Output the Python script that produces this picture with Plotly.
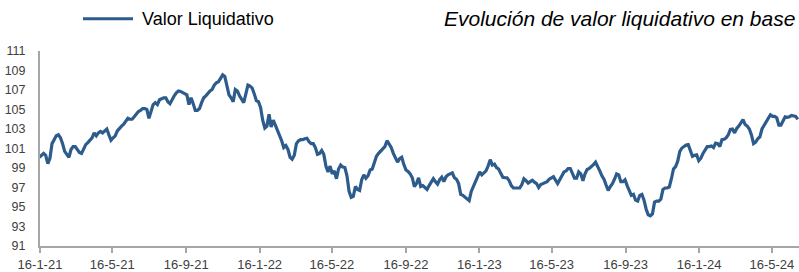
import plotly.graph_objects as go
import pandas as pd

# Twice-weekly observations from 15-1-2021 to 28-6-2024
dates = pd.date_range("2021-01-15", "2024-06-28", freq="84h")
valor_liquidativo = [
    100.1, 100.3, 100.5, 100.3, 99.45, 100.0, 101.5, 101.9, 102.3, 102.4,
    102.1, 101.5, 100.7, 100.4, 100.1, 100.9, 101.2, 101.2, 100.9, 100.6,
    100.5, 100.9, 101.4, 101.6, 101.8, 102.1, 102.6, 102.3, 102.6, 102.75,
    102.6, 102.8, 103.0, 102.4, 101.85, 102.1, 102.3, 102.8, 103.1, 103.3,
    103.5, 103.8, 104.1, 104.0, 104.0, 104.25, 104.5, 104.8, 104.9, 105.1,
    105.1, 105.0, 104.1, 104.7, 105.5, 105.7, 105.5, 106.0, 106.1, 106.2,
    106.2, 105.8, 105.6, 106.05, 106.4, 106.7, 106.9, 106.85, 106.7, 106.6,
    106.5, 105.5, 106.2, 105.6, 104.9, 104.9, 105.1, 105.7, 106.2, 106.4,
    106.7, 106.9, 107.05, 107.5, 107.75, 107.85, 108.2, 108.55, 108.4, 107.6,
    106.5, 106.2, 105.8, 107.05, 106.9, 106.4, 106.0, 105.7, 106.6, 107.5,
    107.4, 107.2, 106.6, 105.9, 105.8, 105.2, 103.9, 103.1, 103.3, 104.5,
    103.2, 103.9, 103.4, 102.9, 102.3, 101.8, 101.1, 101.3, 100.9, 100.1,
    99.9, 100.3, 101.5, 101.8, 101.9, 101.9, 102.0, 102.05, 101.7, 101.5,
    101.5, 101.1, 100.4, 100.5, 100.8, 100.4, 99.2, 98.6, 99.2, 98.4,
    98.7, 97.9, 98.9, 99.3, 99.1, 99.05, 98.2, 96.6, 96.0, 96.1,
    97.1, 96.8, 96.7, 97.8, 98.3, 97.95, 98.2, 98.8, 98.9, 99.5,
    100.2, 100.5, 100.7, 100.9, 101.2, 101.8, 101.5, 101.1, 100.5, 99.95,
    99.6, 99.95, 100.1, 99.35, 98.8, 98.65, 98.4, 98.0, 97.1, 97.4,
    98.0, 97.1, 97.2, 97.0, 96.8, 97.2, 97.5, 97.9, 97.6, 97.35,
    97.8, 98.05, 97.6, 98.1, 98.3, 98.4, 98.5, 98.0, 97.85, 97.4,
    96.3, 96.2, 96.05, 95.9, 95.65, 96.6, 97.1, 97.5, 98.1, 98.6,
    98.3, 98.45, 98.7, 99.2, 99.85, 99.3, 99.4, 99.05, 98.9, 98.45,
    98.05, 98.0, 98.0, 97.7, 97.2, 96.95, 96.95, 96.95, 96.95, 97.3,
    97.9, 97.7, 97.45, 97.6, 97.75, 97.55, 97.4, 97.0, 97.3, 97.4,
    97.5, 97.6, 97.85, 97.95, 98.1, 97.75, 97.4, 97.8, 98.3, 98.6,
    98.7, 98.95, 98.95, 98.5, 97.95, 97.95, 98.6, 98.4, 97.7, 98.4,
    98.85, 98.95, 99.1, 99.35, 99.6, 99.2, 98.7, 98.2, 97.85, 97.25,
    96.7, 97.1, 97.4, 97.85, 98.4, 98.3, 97.6, 97.6, 97.8, 97.2,
    96.7, 96.2, 96.3, 95.7, 95.6, 96.2, 96.3, 95.7, 94.8, 94.2,
    94.1, 94.3, 95.5, 95.6, 95.6, 95.8, 96.8, 96.95, 96.95, 97.05,
    97.9, 98.9, 99.15, 99.7, 100.7, 101.05, 101.2, 101.35, 101.4, 100.7,
    100.2, 100.3, 100.35, 99.75, 100.0, 100.5, 100.9, 101.2, 101.2, 101.25,
    101.1, 101.55, 101.5, 101.2, 101.9, 101.95, 102.1, 102.4, 102.95, 103.0,
    102.6, 103.05, 103.3, 103.7, 103.96, 103.46, 103.3, 103.0, 102.4, 101.5,
    101.65, 102.0, 102.2, 103.0, 103.4, 103.7, 104.2, 104.46, 104.3, 104.3,
    104.15, 103.4, 103.4, 103.8, 104.25, 104.2, 104.25, 104.4, 104.35, 104.3,
    104.0,
]

x_tick_dates = ["2021-01-16", "2021-05-16", "2021-09-16", "2022-01-16", "2022-05-16",
                "2022-09-16", "2023-01-16", "2023-05-16", "2023-09-16", "2024-01-16",
                "2024-05-16"]
x_tick_labels = ["16-1-21", "16-5-21", "16-9-21", "16-1-22", "16-5-22", "16-9-22",
                 "16-1-23", "16-5-23", "16-9-23", "16-1-24", "16-5-24"]
y_ticks = [91, 93, 95, 97, 99, 101, 103, 105, 107, 109, 111]

series_name = "Valor Liquidativo"
chart_title = "Evolución de valor liquidativo en base"

LINE_COLOR = "#2D5B8C"
AXIS_COLOR = "#A6A6A6"
TEXT_COLOR = "#404040"

fig = go.Figure()
fig.add_trace(go.Scatter(
    x=dates, y=valor_liquidativo, mode="lines", name=series_name,
    line=dict(color=LINE_COLOR, width=3.2), showlegend=False,
))

fig.update_layout(
    width=799, height=272,
    margin=dict(l=40, r=0, t=51, b=21),
    paper_bgcolor="white", plot_bgcolor="white",
    font=dict(family="Liberation Sans, Arial, sans-serif", size=13, color=TEXT_COLOR),
    xaxis=dict(
        range=["2021-01-16", "2024-06-30"],
        tickvals=x_tick_dates, ticktext=x_tick_labels,
        showgrid=False, zeroline=False,
        showline=True, linecolor=AXIS_COLOR, linewidth=2,
        ticks="outside", ticklen=5, tickwidth=1.5, tickcolor=AXIS_COLOR,
        tickfont=dict(size=13, color=TEXT_COLOR),
    ),
    yaxis=dict(
        range=[91, 111], tickvals=y_ticks,
        showgrid=False, zeroline=False,
        showline=True, linecolor=AXIS_COLOR, linewidth=2,
        ticks="", tickfont=dict(size=12.5, color=TEXT_COLOR),
        ticklabelstandoff=10,
    ),
)

# legend (manual, to match a longer sample line)
fig.add_shape(type="line", xref="paper", yref="paper",
              x0=(83 - 40) / 759, x1=(133 - 40) / 759,
              y0=(251 - 18) / 200, y1=(251 - 18) / 200,
              line=dict(color=LINE_COLOR, width=3))
fig.add_annotation(xref="paper", yref="paper", x=(140 - 40) / 759, y=(251 - 18) / 200,
                   text=series_name, showarrow=False, xanchor="left", yanchor="middle",
                   font=dict(size=18, color="#000000"))
fig.add_annotation(xref="paper", yref="paper", x=1.0, y=(251 - 18) / 200,
                   text="<i>" + chart_title + "</i>", showarrow=False,
                   xanchor="right", yanchor="middle", xshift=-2,
                   font=dict(size=21, color="#000000"))

fig.write_html("out.html", config={"displayModeBar": False},
               post_script="document.body.style.margin='0';")
